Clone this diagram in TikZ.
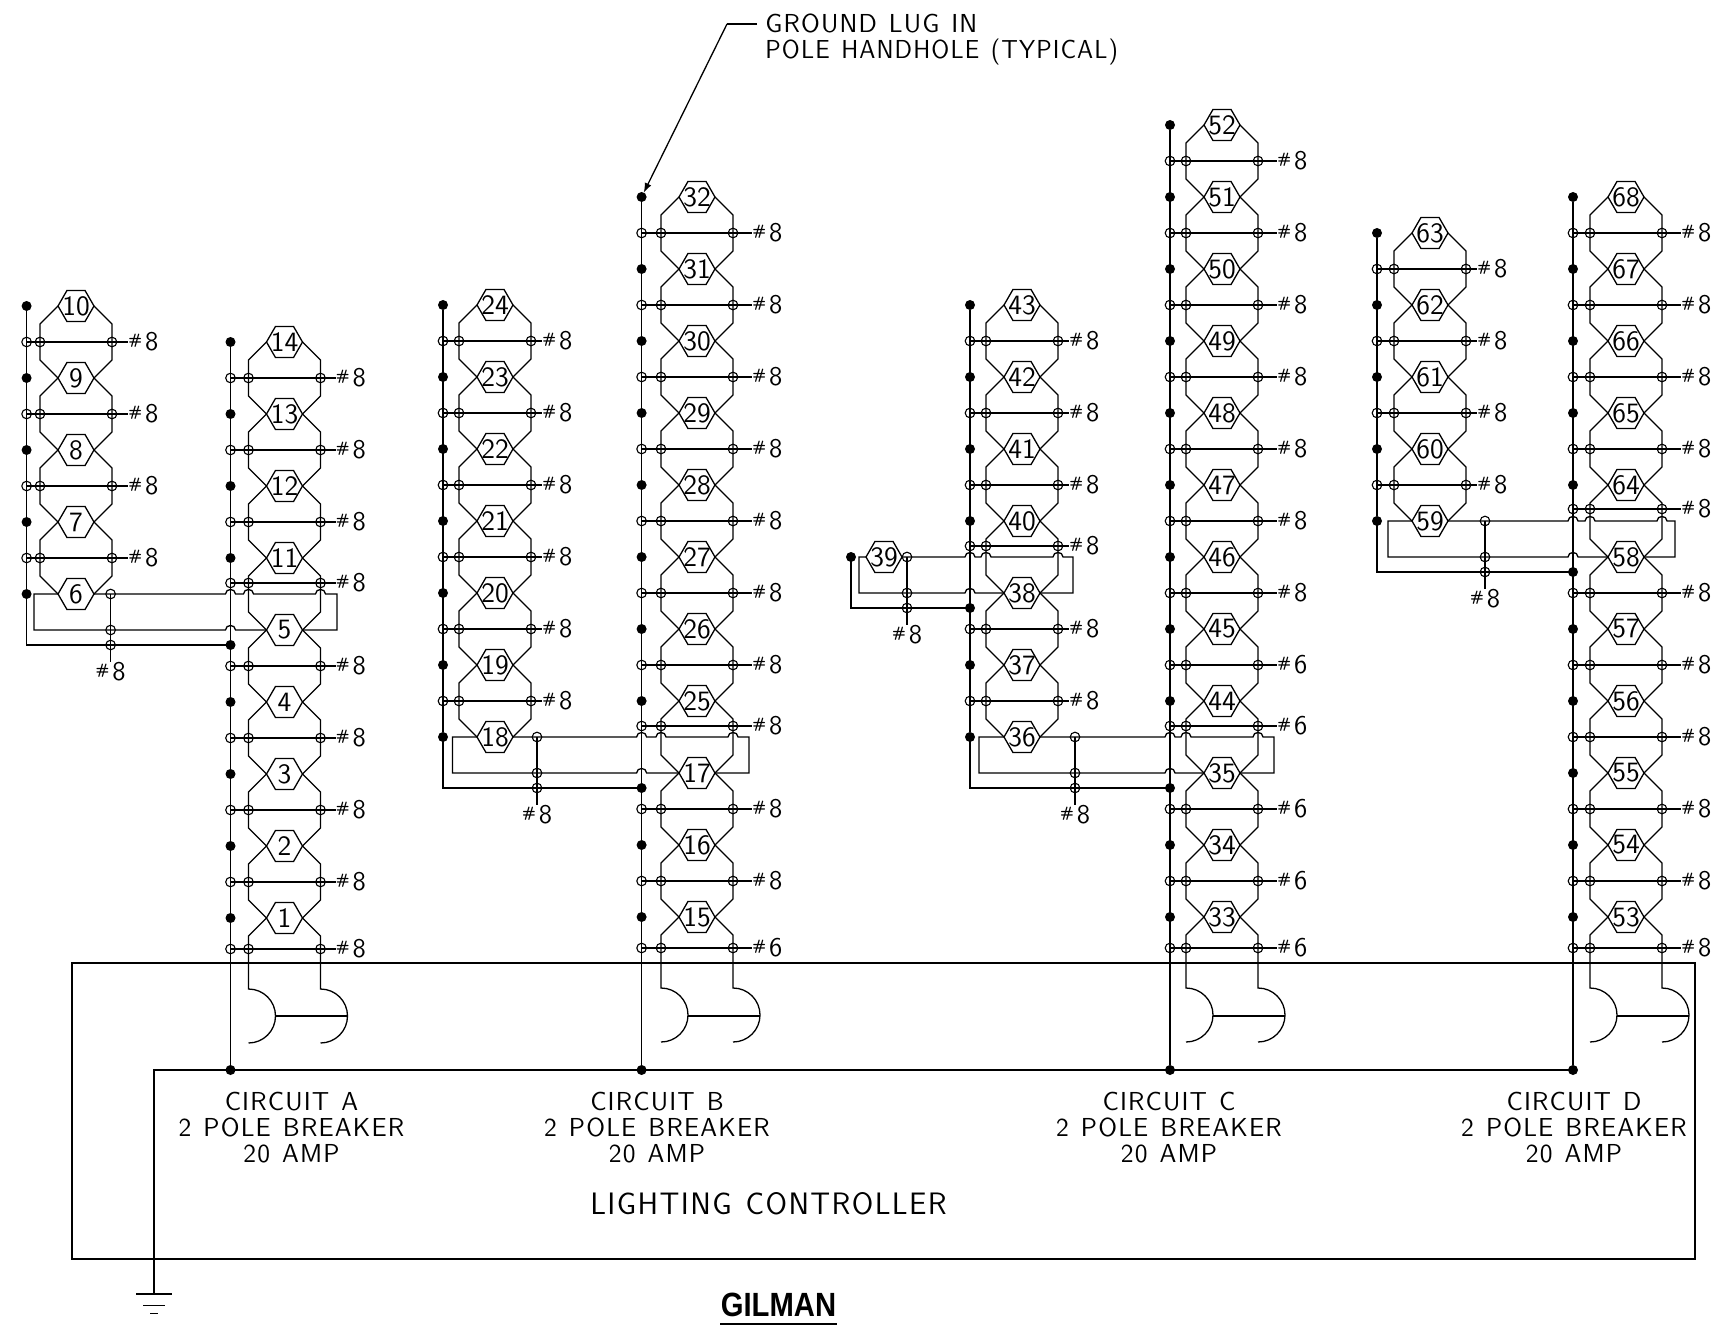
\documentclass[tikz,border=0pt]{standalone}
\usepackage{fontspec}
\usepackage{graphicx}
\usetikzlibrary{shapes.geometric,calc}

\newfontfamily\cadfont[LetterSpace=4.5,WordSpace=1.25]{Latin Modern Sans}
\newfontfamily\titlefont{Liberation Sans}

\tikzset{
	wire/.style={-,line width=0.65pt,black},
	buswire/.style={-,line width=0.85pt,black},
	hexnode/.style={draw,line width=0.65pt,regular polygon,regular polygon sides=6,minimum size=18pt,inner sep=0pt,outer sep=0pt},
	hexnum/.style={inner sep=0pt,font=\sffamily\fontsize{14}{14}\selectfont},
	tapnode/.style={circle,draw,line width=0.55pt,minimum size=4.8pt,inner sep=0pt,outer sep=0pt},
	dotnode/.style={circle,fill=black,minimum size=5pt,inner sep=0pt,outer sep=0pt},
	gaugenode/.style={anchor=west,inner sep=0pt,font=\sffamily\fontsize{13.5}{13.5}\selectfont},
	cadtext/.style={align=center,inner sep=0pt,font=\cadfont\fontsize{13}{13}\selectfont}
}

\newcommand{\gauge}[1]{\smash{\raisebox{3pt}{\fontsize{7.5}{7.5}\selectfont\bfseries\#}}\hspace{1.5pt}#1}
\newcommand{\hopat}[2]{-- ({#1-5},#2) .. controls +(0,-6) and +(0,-6) .. ({#1+5},#2)}

% column of poles: centre x, then number/y
\newcommand{\poles}[2]{
	\foreach \n/\y in {#2} {
		\node[hexnode,label={[hexnum]center:\n}] at (#1,\y) (h\n) {};
	}
}
% feed loop between two poles
\newcommand{\hexlinks}[1]{
	\foreach \a/\b in {#1} {
		\draw[wire] (h\a.west) -- ++(-18,18) -- ++(0,36) -- (h\b.west);
		\draw[wire] (h\a.east) -- ++(18,18) -- ++(0,36) -- (h\b.east);
	}
}
\newcommand{\busdots}[2]{
	\foreach \n/\y in {#2} {
		\node[dotnode] at (#1,\y) (d\n) {};
	}
}
% taps: column, bus x, centre x, gauge offset, then y/gauge
\newcommand{\rungs}[5]{
	\foreach \y/\g in {#5} {
		\node[tapnode] at (#2,\y) (a#1\y) {};
		\node[tapnode] at ({#3-36},\y) (b#1\y) {};
		\node[tapnode] at ({#3+36},\y) (c#1\y) {};
		\node[gaugenode] at ({#3+#4},\y) (g#1\y) {\gauge{\g}};
		\draw[wire] (a#1\y.center) -- (b#1\y.center) -- (c#1\y.center) -- (g#1\y.west);
	}
}
% breaker at the foot of a column
\newcommand{\breaker}[2]{
	\draw[wire] (h#1.west) -- ++(-18,18) -- ++(0,53) arc[start angle=-90,end angle=90,radius=27];
	\draw[wire] (h#1.east) -- ++(18,18) -- ++(0,53) arc[start angle=-90,end angle=90,radius=27];
	\coordinate (arcl#1) at ({#2-9},1016);
	\coordinate (arcr#1) at ({#2+63},1016);
	\draw[wire] (arcl#1) -- (arcr#1);
}

\begin{document}
\begin{tikzpicture}[x=0.5pt,y=-0.5pt]
	\useasboundingbox (0,0) rectangle (1714,1332);

	% circuit A
	\poles{76}{10/306,9/378,8/450,7/522,6/594}
	\hexlinks{10/9,9/8,8/7,7/6}
	\busdots{26.6}{10/306,9/378,8/450,7/522,6/594}
	\draw[buswire] (d10) -- (d6);
	\rungs{au}{26.6}{76}{52}{342/8,414/8,486/8,558/8}
	\poles{284.5}{14/342,13/414,12/486,11/558,5/630,4/702,3/774,2/846,1/918}
	\hexlinks{14/13,13/12,12/11,11/5,5/4,4/3,3/2,2/1}
	\busdots{230.5}{14/342,13/414,12/486,11/558,4/702,3/774,2/846,1/918}
	\rungs{am}{230.5}{284.5}{51}{378/8,450/8,522/8,583/8,666/8,738/8,810/8,882/8,949/8}
	\breaker{1}{284.5}

	% circuit B
	\poles{495}{24/305,23/377,22/449,21/521,20/593,19/665,18/737}
	\hexlinks{24/23,23/22,22/21,21/20,20/19,19/18}
	\busdots{443}{24/305,23/377,22/449,21/521,20/593,19/665,18/737}
	\draw[buswire] (d24) -- (d18);
	\rungs{bu}{443}{495}{47}{341/8,413/8,485/8,557/8,629/8,701/8}
	\poles{697}{32/197,31/269,30/341,29/413,28/485,27/557,26/629,25/701,17/773,16/845,15/917}
	\hexlinks{32/31,31/30,30/29,29/28,28/27,27/26,26/25,25/17,17/16,16/15}
	\busdots{641.6}{32/197,31/269,30/341,29/413,28/485,27/557,26/629,25/701,16/845,15/917}
	\rungs{bm}{641.6}{697}{55}{233/8,305/8,377/8,449/8,521/8,593/8,665/8,726/8,809/8,881/8,948/6}
	\breaker{15}{697}

	% circuit C
	\poles{1022}{43/305,42/377,41/449,40/521,38/593,37/665,36/737}
	\poles{884}{39/557}
	\hexlinks{43/42,42/41,41/40,40/38,38/37,37/36}
	\busdots{970}{43/305,42/377,41/449,40/521,37/665,36/737}
	\node[dotnode] at (851,557) (d39) {};
	\draw[buswire] (d43) -- (d36);
	\rungs{cu}{970}{1022}{47}{341/8,413/8,485/8,546/8,629/8,701/8}
	\poles{1222}{52/125,51/197,50/269,49/341,48/413,47/485,46/557,45/629,44/701,35/773,34/845,33/917}
	\hexlinks{52/51,51/50,50/49,49/48,48/47,47/46,46/45,45/44,44/35,35/34,34/33}
	\busdots{1170}{52/125,51/197,50/269,49/341,48/413,47/485,46/557,45/629,44/701,34/845,33/917}
	\rungs{cm}{1170}{1222}{55}{161/8,233/8,305/8,377/8,449/8,521/8,593/8,665/6,726/6,809/6,881/6,948/6}
	\breaker{33}{1222}

	% circuit D
	\poles{1430}{63/233,62/305,61/377,60/449,59/521}
	\hexlinks{63/62,62/61,61/60,60/59}
	\busdots{1377}{63/233,62/305,61/377,60/449,59/521}
	\draw[buswire] (d63) -- (d59);
	\rungs{du}{1377}{1430}{47}{269/8,341/8,413/8,485/8}
	\poles{1626}{68/197,67/269,66/341,65/413,64/485,58/557,57/629,56/701,55/773,54/845,53/917}
	\hexlinks{68/67,67/66,66/65,65/64,64/58,58/57,57/56,56/55,55/54,54/53}
	\busdots{1573}{68/197,67/269,66/341,65/413,64/485,57/629,56/701,55/773,54/845,53/917}
	\rungs{dm}{1573}{1626}{55}{233/8,305/8,377/8,449/8,509/8,593/8,665/8,737/8,809/8,881/8,948/8}
	\breaker{53}{1626}

	% jumpers from the side columns to the main columns
	\foreach \up/\lo/\tx/\mb/\cx/\yu/\lx/\rx in {
		6/5/110.6/230.5/284.5/594/34/337,
		18/17/537/641.6/697/737/452.5/749,
		39/38/907/970/1022/557/859/1073,
		36/35/1075/1170/1222/737/979/1274,
		59/58/1485/1573/1626/521/1388/1675} {
		\pgfmathsetmacro\yl{\yu+36}
		\pgfmathsetmacro\yt{\yu+51}
		\pgfmathsetmacro\yg{\yu+78}
		\node[tapnode] at (\tx,\yu) (s\up) {};
		\node[tapnode] at (\tx,\yl) (m\up) {};
		\node[tapnode] at (\tx,\yt) (t\up) {};
		\node[dotnode] at (\mb,\yt) (j\up) {};
		\node[gaugenode,anchor=center] at (\tx,\yg) (n\up) {\gauge{8}};
		\draw[wire] (h\up.east) -- (s\up.center) \hopat{\mb}{\yu} \hopat{\cx-36}{\yu} \hopat{\cx+36}{\yu} -- (\rx,\yu) -- (\rx,\yl) -- (h\lo.east);
		\draw[wire] (h\up.west) -- (\lx,\yu) -- (\lx,\yl) -- (m\up.center) \hopat{\mb}{\yl} -- (h\lo.west);
		\draw[wire] (s\up.center) -- (m\up.center) -- (t\up.center) -- (n\up.north);
		\draw[wire] (d\up.center) |- (t\up.center) -- (j\up.center);
	}

	% buses, frame and ground
	\node[dotnode] at (230.5,1070) (busa) {};
	\node[dotnode] at (641.6,1070) (busb) {};
	\node[dotnode] at (1170,1070) (busc) {};
	\node[dotnode] at (1573,1070) (busd) {};
	\draw[buswire] (d14) -- (busa);
	\draw[buswire] (d32) -- (busb);
	\draw[buswire] (d52) -- (busc);
	\draw[buswire] (d68) -- (busd);
	\draw[wire] (72,963) rectangle (1695,1259);
	\coordinate (gnd) at (154,1294);
	\draw[wire] (gnd) |- (busd.center);
	\draw[wire] ($(gnd)+(-18,0)$) -- ($(gnd)+(18,0)$);
	\draw[line width=0.3pt] ($(gnd)+(-11,11)$) -- ($(gnd)+(11,11)$);
	\draw[line width=0.3pt] ($(gnd)+(-4,19)$) -- ($(gnd)+(4,19)$);

	% text
	\node[cadtext,anchor=base west] at (765,33) (lug1) {GROUND LUG IN};
	\node[cadtext,anchor=base west] at (765,59) (lug2) {\scalebox{0.955}[1]{POLE HANDHOLE (TYPICAL)}};
	\coordinate (lugbend) at (727,24);
	\coordinate (lugend) at (757,24);
	\draw[wire] (lugend) -- (lugbend);
	\draw[wire,-latex] (lugbend) -- (d32);
	\node[cadtext] at (291.5,1128) (cira) {CIRCUIT A\\2 POLE BREAKER\\20 AMP};
	\node[cadtext] at (657,1128) (cirb) {CIRCUIT B\\2 POLE BREAKER\\20 AMP};
	\node[cadtext] at (1169,1128) (circ) {CIRCUIT C\\2 POLE BREAKER\\20 AMP};
	\node[cadtext] at (1574,1128) (cird) {CIRCUIT D\\2 POLE BREAKER\\20 AMP};
	\node[cadtext,font=\cadfont\fontsize{15.5}{15.5}\selectfont] at (768.5,1204) (ctrl) {LIGHTING CONTROLLER};
	\node[inner sep=0pt,font=\titlefont\bfseries\fontsize{16.8}{16.8}\selectfont] at (778.5,1305) (gilman) {\scalebox{0.87}[1]{GILMAN}};
	\draw[line width=1.1pt] ($(gilman.south west)+(0,7)$) -- ($(gilman.south east)+(0,7)$);
\end{tikzpicture}
\end{document}
